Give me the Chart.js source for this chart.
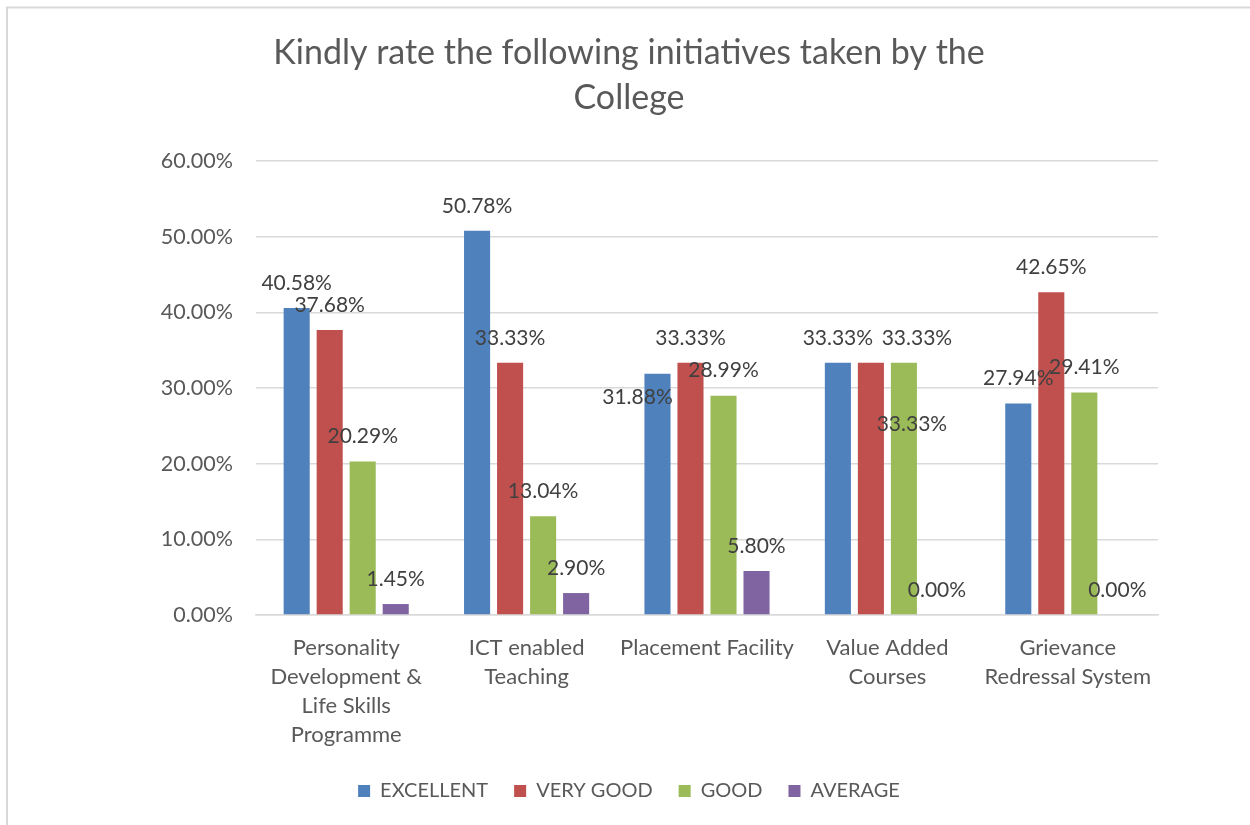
<!DOCTYPE html>
<html><head><meta charset="utf-8">
<script src="https://cdn.jsdelivr.net/npm/chart.js@4/dist/chart.umd.min.js"></script>
<style>html,body{margin:0;padding:0;background:#fff;} canvas{display:block;}</style>
</head><body>
<canvas id="c" width="1250" height="825"></canvas>
<script>
const chartTitle = ["Kindly rate the following initiatives taken by the", "College"];
const categories = [
  ["Personality", "Development &", "Life Skills", "Programme"],
  ["ICT enabled", "Teaching"],
  "Placement Facility",
  ["Value Added", "Courses"],
  ["Grievance", "Redressal System"]
];
const seriesNames = ["EXCELLENT", "VERY GOOD", "GOOD", "AVERAGE"];
const excellent = [40.58, 50.78, 31.88, 33.33, 27.94];
const veryGood  = [37.68, 33.33, 33.33, 33.33, 42.65];
const good      = [20.29, 13.04, 28.99, 33.33, 29.41];
const average   = [1.45, 2.90, 5.80, 0.00, 0.00];
const yTicks = [0, 10, 20, 30, 40, 50, 60];

// label nudges (pixels) relative to the default "above the bar" spot
const labelNudge = [
  [[0,0],[0,0],[-20,48],[0,0],[0,0]],
  [[0,0],[0,0],[0,0],[46,0],[0,0]],
  [[0,0],[0,0],[0,0],[8,86],[0,0]],
  [[0,0],[0,0],[0,0],[0,0],[0,0]]
];
const colors = ["#4F81BD", "#C0504D", "#9BBB59", "#8064A2"];
const FONT = "Lato";

const seriesValues = [excellent, veryGood, good, average];

const frame = {
  id: 'frame',
  beforeDraw(chart) {
    const ctx = chart.ctx;
    ctx.save();
    ctx.fillStyle = '#fff';
    ctx.fillRect(0, 0, chart.width, chart.height);
    ctx.strokeStyle = '#d9d9d9';
    ctx.lineWidth = 2;
    ctx.strokeRect(7, 7.5, 2000, 2000);
    ctx.restore();
  }
};

const valueLabels = {
  id: 'valueLabels',
  afterDatasetsDraw(chart) {
    const ctx = chart.ctx;
    ctx.save();
    ctx.font = "21px " + FONT;
    ctx.fillStyle = '#404040';
    ctx.textAlign = 'center';
    ctx.textBaseline = 'middle';
    chart.data.datasets.forEach((ds, di) => {
      const meta = chart.getDatasetMeta(di);
      meta.data.forEach((el, i) => {
        const n = labelNudge[di][i];
        ctx.fillText(ds.data[i].toFixed(2) + '%', el.x + n[0], el.y - 25 + n[1]);
      });
    });
    ctx.restore();
  }
};

new Chart(document.getElementById('c'), {
  type: 'bar',
  data: {
    labels: categories,
    datasets: seriesNames.map((name, i) => ({
      label: name,
      data: seriesValues[i],
      backgroundColor: colors[i],
      borderWidth: 0,
      yAxisID: 'y',
      categoryPercentage: 0.732,
      barPercentage: 0.79
    }))
  },
  options: {
    responsive: false,
    animation: false,
    devicePixelRatio: 1,
    layout: { padding: { left: 8, right: 0, top: 0, bottom: 14 } },
    plugins: {
      title: {
        display: true,
        text: chartTitle,
        color: '#595959',
        font: { family: FONT, size: 34, weight: 'normal', lineHeight: 45/34 },
        padding: { top: 31, bottom: 40 }
      },
      legend: {
        position: 'bottom',
        labels: {
          boxWidth: 12, boxHeight: 12, padding: 26,
          color: '#595959',
          font: { family: FONT, size: 20 }
        }
      },
      tooltip: { enabled: false }
    },
    scales: {
      x: {
        grid: { display: false, drawTicks: false },
        border: { display: true, color: '#d9d9d9', width: 1.5 },
        ticks: {
          color: '#595959', padding: 18.5, maxRotation: 0, autoSkip: false,
          font: { family: FONT, size: 22, lineHeight: 29/22 }
        },
        afterFit(s) { s.height = 140; }
      },
      y: {
        min: 0, max: 60,
        afterBuildTicks(s) { s.ticks = yTicks.map(v => ({ value: v })); },
        grid: { color: '#d9d9d9', lineWidth: 1.5, drawTicks: false },
        border: { display: false },
        ticks: {
          color: '#595959', padding: 23,
          font: { family: FONT, size: 21.5 },
          callback: v => Number(v).toFixed(2) + '%'
        },
        afterFit(s) { s.width = 248; }
      },
      y2: {
        position: 'right',
        grid: { display: false, drawTicks: false },
        border: { display: false },
        ticks: { display: false },
        afterFit(s) { s.width = 92; }
      }
    }
  },
  plugins: [frame, valueLabels]
});
</script>
</body></html>
